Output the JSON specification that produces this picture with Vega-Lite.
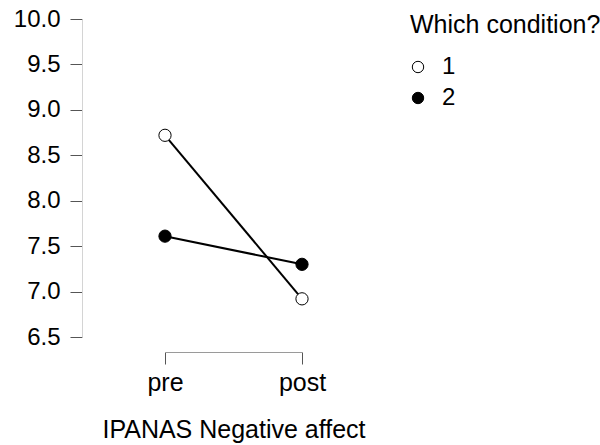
{
  "$schema": "https://vega.github.io/schema/vega-lite/v6.json",
  "width": 137,
  "height": 318,
  "autosize": {"type": "none"},
  "padding": {"left": 165, "top": 19, "right": 298, "bottom": 108},
  "background": "white",
  "config": {
    "view": {"stroke": null},
    "font": "Liberation Sans",
    "axis": {"grid": false, "labelFont": "Liberation Sans", "titleFont": "Liberation Sans", "labelColor": "black", "titleColor": "black", "titleFontWeight": "normal"},
    "legend": {"labelFont": "Liberation Sans", "titleFont": "Liberation Sans"}
  },
  "data": {
    "values": [
      {"time": "pre", "condition": "1", "value": 8.72},
      {"time": "post", "condition": "1", "value": 6.92},
      {"time": "pre", "condition": "2", "value": 7.61},
      {"time": "post", "condition": "2", "value": 7.30}
    ]
  },
  "encoding": {
    "x": {
      "field": "time", "type": "nominal", "sort": ["pre", "post"],
      "scale": {"type": "point", "padding": 0},
      "axis": {
        "title": "IPANAS Negative affect", "titleFontSize": 25, "titlePadding": 22,
        "labelFontSize": 25, "labelAngle": 0, "labelPadding": 6,
        "offset": 15, "tickSize": 12, "domainColor": "#9a9a9a", "tickColor": "#555555", "labelFlush": false
      }
    },
    "y": {
      "field": "value", "type": "quantitative",
      "scale": {"domain": [6.5, 10], "nice": false, "zero": false},
      "axis": {
        "title": null, "values": [6.5, 7, 7.5, 8, 8.5, 9, 9.5, 10], "format": ".1f",
        "labelFontSize": 24, "labelPadding": 10, "offset": 83, "tickSize": 12,
        "domainColor": "#d4d4d4", "tickColor": "#555555", "labelFlush": false
      }
    }
  },
  "layer": [
    {
      "mark": {"type": "line", "color": "black", "strokeWidth": 2},
      "encoding": {"detail": {"field": "condition", "type": "nominal"}}
    },
    {
      "mark": {"type": "point", "shape": "circle", "filled": true, "size": 150, "stroke": "black", "strokeWidth": 1, "opacity": 1},
      "encoding": {
        "fill": {
          "field": "condition", "type": "nominal",
          "scale": {"domain": ["1", "2"], "range": ["white", "black"]},
          "legend": {
            "title": "Which condition?", "titleFontSize": 25, "titleFontWeight": "normal", "titleColor": "black",
            "titleLimit": 400, "labelLimit": 200,
            "labelFontSize": 24, "labelColor": "black", "symbolType": "circle", "symbolSize": 130,
            "symbolStrokeColor": "black", "symbolStrokeWidth": 1, "orient": "none", "legendX": 245, "legendY": -6,
            "rowPadding": 7, "labelOffset": 12, "titlePadding": 17, "symbolOffset": -4
          }
        }
      }
    }
  ]
}
